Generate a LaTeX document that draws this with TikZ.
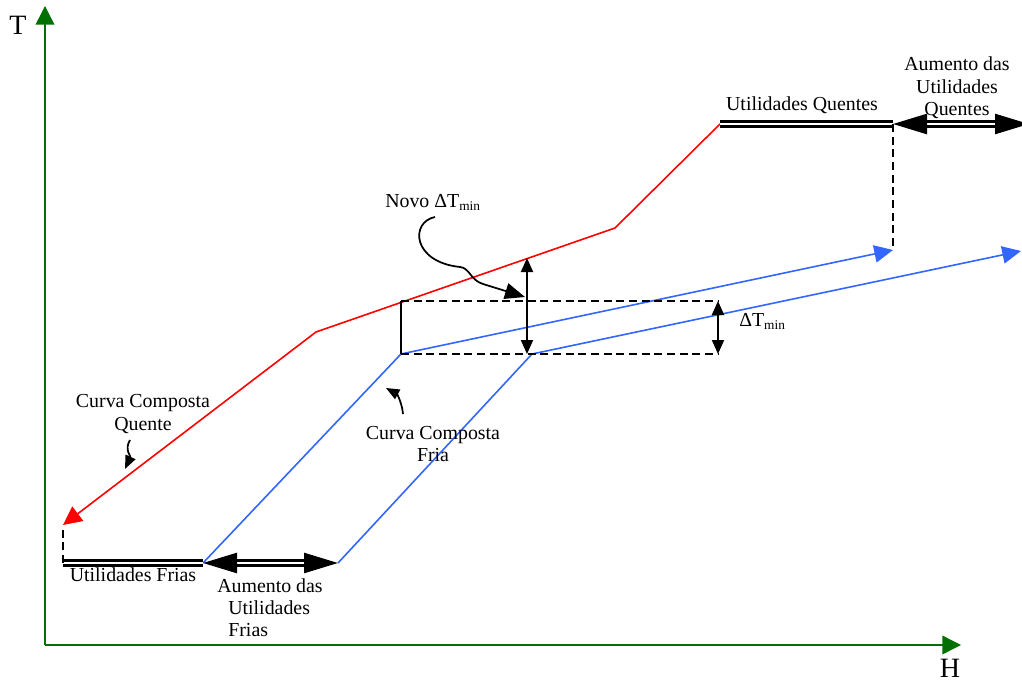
\documentclass[tikz,border=0pt]{standalone}
\usepackage{fontspec}
\setmainfont{Liberation Serif}
\usetikzlibrary{arrows.meta}
\definecolor{axisgreen}{RGB}{0,112,0}
\definecolor{hotred}{RGB}{255,0,0}
\definecolor{coldblue}{RGB}{51,102,255}
\newcommand{\dtmin}{ΔT\raisebox{-0.35ex}{\fontsize{10}{10}\selectfont min}}

\begin{document}
\begin{tikzpicture}[x=0.75pt,y=-0.75pt,
  lbl/.style={font=\fontsize{14.9}{16.8}\selectfont, inner sep=0pt, align=center},
  axislbl/.style={font=\fontsize{21}{21}\selectfont, inner sep=0pt},
  axis/.style={axisgreen, line width=1.1pt, -{Triangle[length=14pt,width=14pt]}},
  hot/.style={hotred, line width=1.2pt},
  cold/.style={coldblue, line width=1.2pt},
  coldtip/.style={-{Triangle[length=14pt,width=13pt]}},
  util/.style={double, double distance=1.5pt, line width=1.9pt},
  bigtips/.style={{Triangle[length=25.5pt,width=15pt]}-{Triangle[length=25.5pt,width=15pt]}},
  guide/.style={line width=1.5pt, dash pattern=on 6pt off 3.5pt},
  dim/.style={line width=1.5pt, {Triangle[length=10.5pt,width=9pt]}-{Triangle[length=10.5pt,width=9pt]}},
  pointer/.style={line width=1.3pt, -{Triangle[length=#1,width=0.8*#1]}},
  pointer/.default=10pt]
\useasboundingbox (0,0) rectangle (1022,682);

% axes
\coordinate (O) at (45,645);
\coordinate (Ttip) at (45,6);
\coordinate (Htip) at (961,645);
\draw[axis] (O) -- (Ttip);
\draw[axis] (O) -- (Htip);
\node[axislbl] (Tlab) at (18,25) {T};
\node[axislbl] (Hlab) at (950,668) {H};

% key points of the curves
\coordinate (hq1) at (720,124);
\coordinate (hq2) at (893,124);
\coordinate (hqx) at (1029,124);
\coordinate (r2) at (615,228);
\coordinate (r3) at (316,332);
\coordinate (r4) at (63,525);
\coordinate (cf1) at (63,563);
\coordinate (cf2) at (203,563);
\coordinate (cf3) at (338,563);
\coordinate (b1) at (401,354);
\coordinate (b1t) at (893,250);
\coordinate (b2) at (532,354);
\coordinate (b2t) at (1021,251);
\coordinate (rt) at (401,301);
\coordinate (rr) at (718,301);
\coordinate (rrb) at (718,354);
\coordinate (nt) at (527,258);
\coordinate (nb) at (527,354);
\coordinate (cf0) at (63,527);

% hot composite curve
\draw[hot, -{Triangle[length=14pt,width=13.5pt]}] (hq1) -- (r2) -- (r3) -- (r4);

% cold composite curves (original and shifted)
\draw[cold, coldtip] (cf2) -- (b1) -- (b1t);
\draw[cold, coldtip] (cf3) -- (b2) -- (b2t);

% utilities
\draw[util] (hq1) -- (hq2);
\draw[util, bigtips] (hq2) -- (hqx);
\draw[util] (cf1) -- (cf2);
\draw[util, bigtips] (cf2) -- (cf3);

% guide lines
\draw[guide] (hq2) -- (b1t);
\draw[guide] (cf1) -- (cf0);
\draw[guide] (rt) -- (rr);
\draw[guide] (b1) -- (rrb);
\draw[line width=1.5pt] (rt) -- (b1);

% temperature approach markers
\draw[dim] (nt) -- (nb);
\draw[dim] (rr) -- (rrb);

% labels
\node[lbl] (uq) at (802,105) {Utilidades Quentes};
\node[lbl] (auq) at (957,88) {Aumento das\\Utilidades\\Quentes};
\node[lbl, anchor=base west] (novo) at (385,207) {Novo \dtmin};
\node[lbl, anchor=base west] (dt) at (739,326) {\dtmin};
\node[lbl] (ccq) at (143,414) {Curva Composta\\Quente};
\node[lbl] (ccf) at (433,444) {Curva Composta\\Fria};
\node[lbl] (uf) at (133,575) {Utilidades Frias};
\node[lbl, align=left, anchor=north west] (auf) at (217,578)
  {Aumento das\\\hspace*{8.3pt}Utilidades\\\hspace*{8.3pt}Frias};

% pointers from the labels
\coordinate (np0) at (435,217);
\coordinate (np1) at (460,267);
\coordinate (np2) at (483,284);
\coordinate (np3) at (525,297);
\draw[pointer=15pt] (np0) .. controls (410,222) and (412,262) .. (np1)
  .. controls (470,268) and (470,280) .. (np2) -- (np3);
\coordinate (qp0) at (130,440);
\coordinate (qp1) at (125,469);
\draw[pointer] (qp0) .. controls (124,450) and (131,456) .. (qp1);
\coordinate (fp0) at (403,414);
\coordinate (fp1) at (386,388);
\draw[pointer] (fp0) .. controls (402,403) and (397,394) .. (fp1);
\end{tikzpicture}
\end{document}
